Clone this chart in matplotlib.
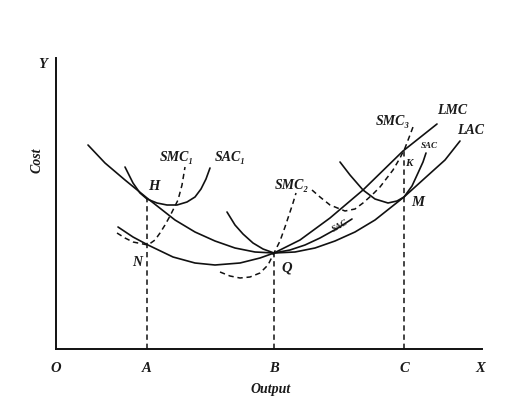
"""Short-run and long-run cost curves (SAC / SMC envelope by LAC / LMC)."""

import matplotlib
matplotlib.use("Agg")
import matplotlib.pyplot as plt

# ── data (output, cost) ─────────────────────────────────────────────────────
lac_x = [32, 49, 69, 91, 119, 139, 159, 179, 199, 218, 239, 259, 279, 299, 319, 348, 369, 389, 404]
lac_y = [204, 186, 169, 151, 129, 117, 108, 101, 97, 96, 97, 101, 108, 117, 129, 152, 171, 189, 208]

lmc_x = [62, 77, 92, 117, 139, 159, 184, 204, 218, 244, 274, 307, 347, 381]
lmc_y = [122, 112, 104, 92, 86, 84, 86, 91, 96, 109, 131, 159, 198, 225]

sac1_x = [69, 77, 84, 91, 101, 111, 121, 131, 139, 145, 150, 154]
sac1_y = [182, 166, 156, 150, 146, 144, 144, 147, 152, 160, 170, 181]
smc1_x = [61, 69, 77, 92, 99, 104, 109, 114, 118, 122, 126, 129]
smc1_y = [116, 111, 107, 104, 109, 116, 124, 133, 141, 149, 164, 182]

sac2_x = [171, 179, 187, 197, 207, 218, 234, 249, 264, 282, 296]
sac2_y = [137, 124, 115, 106, 100, 96, 99, 104, 111, 121, 130]
smc2_x = [164, 174, 184, 194, 204, 212, 218, 224, 229, 233, 237, 240]
smc2_y = [77, 73, 71, 72, 76, 84, 96, 108, 122, 134, 146, 156]

sac3_x = [284, 294, 307, 319, 332, 341, 348, 356, 362, 367, 370]
sac3_y = [187, 174, 159, 150, 146, 148, 152, 163, 176, 187, 196]
smc3_x = [256, 264, 274, 289, 299, 307, 316, 324, 337, 344, 349, 354, 357]
smc3_y = [159, 152, 144, 138, 140, 146, 154, 162, 179, 191, 201, 214, 222]

out_ticks = [91, 218, 348]
out_labels = ["A", "B", "C"]
drop_tops = [151, 96, 199]   # H, Q, K

FONT = ["Liberation Serif", "DejaVu Serif"]
TXT = dict(family=FONT, style="italic", weight="bold", color="#1a1a1a")

fig = plt.figure(figsize=(5.15, 4.12), dpi=100)
ax = fig.add_axes([56 / 515, 63 / 412, 426 / 515, 291 / 412])
ax.set_xlim(0, 426)
ax.set_ylim(0, 291)
for s in ["top", "right"]:
    ax.spines[s].set_visible(False)
for s in ["left", "bottom"]:
    ax.spines[s].set_linewidth(1.4)
    ax.spines[s].set_color("#111111")
ax.set_xticks([])
ax.set_yticks([])
ax.patch.set_alpha(0)

solid = dict(color="#111111", lw=1.2, solid_capstyle="round")
dash = dict(color="#111111", lw=1.1, ls=(0, (3.5, 2.5)))

ax.plot(lac_x, lac_y, **solid)
ax.plot(lmc_x, lmc_y, **solid)
ax.plot(sac1_x, sac1_y, **solid)
ax.plot(sac2_x, sac2_y, **solid)
ax.plot(sac3_x, sac3_y, **solid)
ax.plot(smc1_x, smc1_y, **dash)
ax.plot(smc2_x, smc2_y, **dash)
ax.plot(smc3_x, smc3_y, **dash)

for x, top in zip(out_ticks, drop_tops):
    ax.plot([x, x], [0, top], **dash)

# axis letters
kw = dict(clip_on=False, ha="center", va="center", **TXT)
ax.text(-13, 285, "Y", fontsize=10.5, **kw)
ax.text(-19, 189, "Cost", fontsize=10, rotation=90, **kw)
ax.text(0, -20, "O", fontsize=10.5, **kw)
for x, lab in zip(out_ticks, out_labels):
    ax.text(x, -19, lab, fontsize=10.5, **kw)
ax.text(424, -19, "X", fontsize=10.5, **kw)
ax.text(215, -41, "Output", fontsize=10, **kw)

# points
ax.text(98, 163, "H", fontsize=10.5, **kw)
ax.text(81, 87, "N", fontsize=10, **kw)
ax.text(231, 81, "Q", fontsize=10.5, **kw)
ax.text(362, 146, "M", fontsize=10.5, **kw)
ax.text(353, 186, "K", fontsize=8, **kw)

# curve names
ax.text(396, 239, "LMC", fontsize=10, **kw)
ax.text(415, 218, "LAC", fontsize=10, **kw)
ax.text(337, 228, "SMC₃", fontsize=10, **kw)
ax.text(373, 203, "SAC", fontsize=6.5, **kw)
ax.text(236, 163, "SMC₂", fontsize=10, **kw)
ax.text(284, 123, "SAC", fontsize=6.5, rotation=30, **kw)
ax.text(121, 192, "SMC₁", fontsize=10, **kw)
ax.text(174, 192, "SAC₁", fontsize=10, **kw)

fig.savefig("out.png", dpi=100)
